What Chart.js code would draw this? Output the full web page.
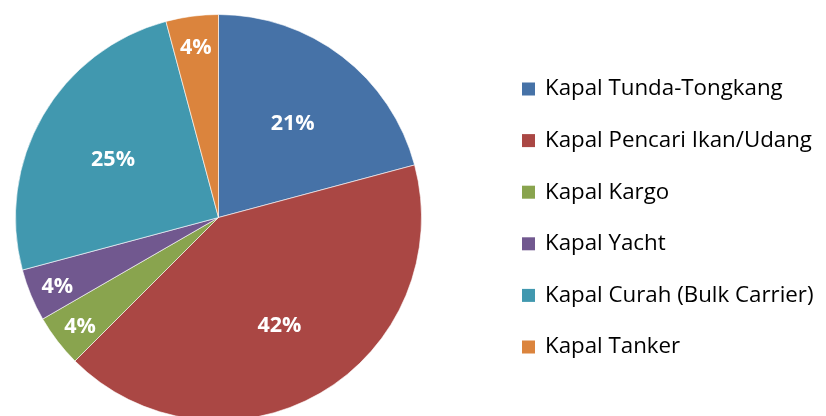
<!DOCTYPE html>
<html>
<head>
  <meta charset="utf-8">
  <title>Jenis Kapal</title>
  <script src="https://cdn.jsdelivr.net/npm/chart.js"></script>
  <style>
    html, body { margin: 0; padding: 0; background: #fff; overflow: hidden; }
    #wrap { position: relative; width: 826px; height: 424px; }
  </style>
</head>
<body>
  <div id="wrap"><canvas id="pieKapal"></canvas></div>

  <script>
    // data (counts, 24 ships total)
    const categories = ['Kapal Tunda-Tongkang', 'Kapal Pencari Ikan/Udang', 'Kapal Kargo',
                        'Kapal Yacht', 'Kapal Curah (Bulk Carrier)', 'Kapal Tanker'];
    const jumlah = [5, 10, 1, 1, 6, 1];
    const colors = ['#4672A7', '#AA4744', '#89A44E', '#71588F', '#4198AF', '#DB843D'];

    const FONT = '"Open Sans", Lato, sans-serif';

    // percentage labels inside the slices
    const sliceLabels = {
      id: 'sliceLabels',
      afterDatasetsDraw(chart) {
        const ctx = chart.ctx;
        const meta = chart.getDatasetMeta(0);
        const data = chart.data.datasets[0].data;
        const total = data.reduce((a, b) => a + b, 0);
        ctx.save();
        ctx.fillStyle = '#fff';
        ctx.font = 'bold 21.5px ' + FONT;
        ctx.textAlign = 'center';
        ctx.textBaseline = 'middle';
        meta.data.forEach((arc, i) => {
          const p = arc.getProps(['x', 'y', 'startAngle', 'endAngle', 'outerRadius'], true);
          const mid = (p.startAngle + p.endAngle) / 2;
          const share = data[i] / total;
          const r = p.outerRadius * (share > 0.1 ? 0.6 : 0.86);
          const txt = Math.round(share * 100) + '%';
          ctx.fillText(txt, p.x + Math.cos(mid) * r, p.y + Math.sin(mid) * r + 3);
        });
        ctx.restore();
      }
    };

    // legend on the right
    const sideLegend = {
      id: 'sideLegend',
      afterDraw(chart) {
        const ctx = chart.ctx;
        const ds = chart.data.datasets[0];
        ctx.save();
        ctx.font = '22.3px ' + FONT;
        ctx.textBaseline = 'middle';
        chart.data.labels.forEach((lab, i) => {
          const y = 89 + i * 51.6;
          ctx.fillStyle = ds.backgroundColor[i];
          ctx.fillRect(522, y - 6.5, 13, 13);
          ctx.fillStyle = '#000';
          ctx.fillText(lab, 545, y);
        });
        ctx.restore();
      }
    };

    new Chart(document.getElementById('pieKapal'), {
      type: 'pie',
      data: {
        labels: categories,
        datasets: [{
          data: jumlah,
          backgroundColor: colors,
          borderColor: 'rgba(255,255,255,0.6)',
          borderWidth: 1
        }]
      },
      options: {
        responsive: true,
        maintainAspectRatio: false,
        animation: false,
        layout: { padding: { left: 15, right: 404, top: 14, bottom: 3 } },
        plugins: {
          legend: { display: false },
          tooltip: { enabled: false }
        }
      },
      plugins: [sliceLabels, sideLegend]
    });
  </script>
</body>
</html>
